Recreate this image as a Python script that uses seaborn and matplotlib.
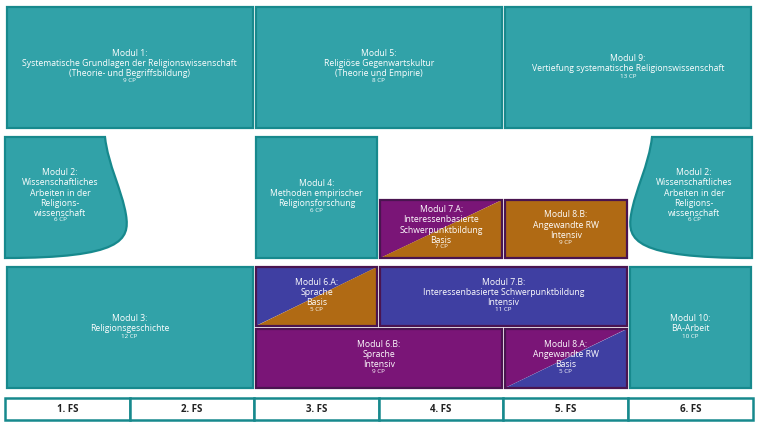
import matplotlib
matplotlib.use("Agg")
import matplotlib.pyplot as plt
import seaborn as sns
from matplotlib.patches import Rectangle, Polygon, PathPatch
from matplotlib.path import Path

sns.set_style("white")
plt.rcParams['font.family'] = ['Open Sans', 'DejaVu Sans']

semesters = ["1. FS", "2. FS", "3. FS", "4. FS", "5. FS", "6. FS"]

titles = [
    "Modul 1:\nSystematische Grundlagen der Religionswissenschaft\n(Theorie- und Begriffsbildung)",
    "Modul 5:\nReligiöse Gegenwartskultur\n(Theorie und Empirie)",
    "Modul 9:\nVertiefung systematische Religionswissenschaft",
    "Modul 4:\nMethoden empirischer\nReligionsforschung",
    "Modul 7.A:\nInteressenbasierte\nSchwerpunktbildung\nBasis",
    "Modul 8.B:\nAngewandte RW\nIntensiv",
    "Modul 3:\nReligionsgeschichte",
    "Modul 6.A:\nSprache\nBasis",
    "Modul 7.B:\nInteressenbasierte Schwerpunktbildung\nIntensiv",
    "Modul 6.B:\nSprache\nIntensiv",
    "Modul 8.A:\nAngewandte RW\nBasis",
    "Modul 10:\nBA-Arbeit",
]
cps = [9, 8, 13, 6, 7, 9, 12, 5, 11, 9, 5, 10]
sem_start = [0, 2, 4, 2, 3, 4, 0, 2, 3, 2, 4, 5]
sem_end   = [2, 4, 6, 3, 4, 5, 2, 3, 5, 4, 5, 6]
row_top   = [0, 0, 0, 1, 1.5, 1.5, 2, 2, 2, 2.5, 2.5, 2]
row_bot   = [1, 1, 1, 2, 2, 2, 3, 2.5, 2.5, 3, 3, 3]
kind      = ["T", "T", "T", "T", "PO", "O", "T", "BO", "B", "P", "PB", "T"]

m2_title = "Modul 2:\nWissenschaftliches\nArbeiten in der\nReligions-\nwissenschaft"
m2_cp = 6

TEAL, TEAL_E = "#31a2a8", "#17898d"
PURPLE, BLUE, ORANGE = "#7a1577", "#3f3fa2", "#b06a14"
DARK_E = "#4a1450"
cols = {"T": TEAL, "P": PURPLE, "B": BLUE, "O": ORANGE}

fig = plt.figure(figsize=(7.61, 4.28), dpi=100)
ax = fig.add_axes([0, 0, 1, 1])
ax.set_xlim(0, 761); ax.set_ylim(428, 0); ax.axis("off")

X0, SW = 5, 124.6
ROWY = [7, 137, 267]
ROWH = 121
def sx(s): return X0 + s * SW
def ytop(r):
    i = int(r); return ROWY[i] + (r - i) * ROWH
def ybot(r):
    i = int(r)
    if r == i: return ROWY[i - 1] + ROWH
    return ROWY[i] + (r - i) * ROWH

LH = 8.9
def text(xc, yc, title, cp):
    n = title.count("\n") + 1
    ty = yc - 4
    ax.text(xc, ty, title, ha="center", va="center", fontsize=6.2, color="white", linespacing=1.2)
    ax.text(xc, ty + n * LH / 2 + 4, f"{cp} CP", ha="center", va="center", fontsize=4.5, color="white")

for t, cp, s0, s1, r0, r1, k in zip(titles, cps, sem_start, sem_end, row_top, row_bot, kind):
    x0, x1 = sx(s0) + 1.5, sx(s1) - 1.5
    y0 = ytop(r0) + (1.5 if r0 % 1 else 0)
    y1 = ybot(r1) - (1.5 if r1 % 1 else 0)
    if r0 == 1.5: y0 = 200
    ec = TEAL_E if k == "T" else DARK_E
    if len(k) == 1:
        ax.add_patch(Rectangle((x0, y0), x1 - x0, y1 - y0, fc=cols[k], ec=ec, lw=1.6))
    else:
        ax.add_patch(Polygon([(x0, y0), (x1, y0), (x0, y1)], fc=cols[k[0]], ec="none"))
        ax.add_patch(Polygon([(x1, y0), (x1, y1), (x0, y1)], fc=cols[k[1]], ec="none"))
        ax.add_patch(Rectangle((x0, y0), x1 - x0, y1 - y0, fc="none", ec=ec, lw=1.6))
    text((x0 + x1) / 2, (y0 + y1) / 2, t, cp)

def wave(mirror):
    pts = [(5, 137), (105, 137), (108, 165), (122, 190), (126, 215), (130, 240), (122, 258), (5, 258), (5, 137)]
    if mirror:
        pts = [(757 - x, y) for x, y in pts]
    return Path(pts, [Path.MOVETO, Path.LINETO, Path.CURVE4, Path.CURVE4, Path.CURVE4,
                      Path.CURVE4, Path.CURVE4, Path.LINETO, Path.CLOSEPOLY])
for m in (False, True):
    ax.add_patch(PathPatch(wave(m), fc=TEAL, ec=TEAL_E, lw=1.6))
text(60, 197, m2_title, m2_cp)
text(694, 197, m2_title, m2_cp)

for i, s in enumerate(semesters):
    ax.add_patch(Rectangle((sx(i), 398), SW, 22, fc="white", ec=TEAL_E, lw=1.8))
    ax.text(sx(i) + SW / 2, 409.5, s, ha="center", va="center", fontsize=7, fontweight="bold", color="#222222")

fig.savefig("out.png", dpi=100)
